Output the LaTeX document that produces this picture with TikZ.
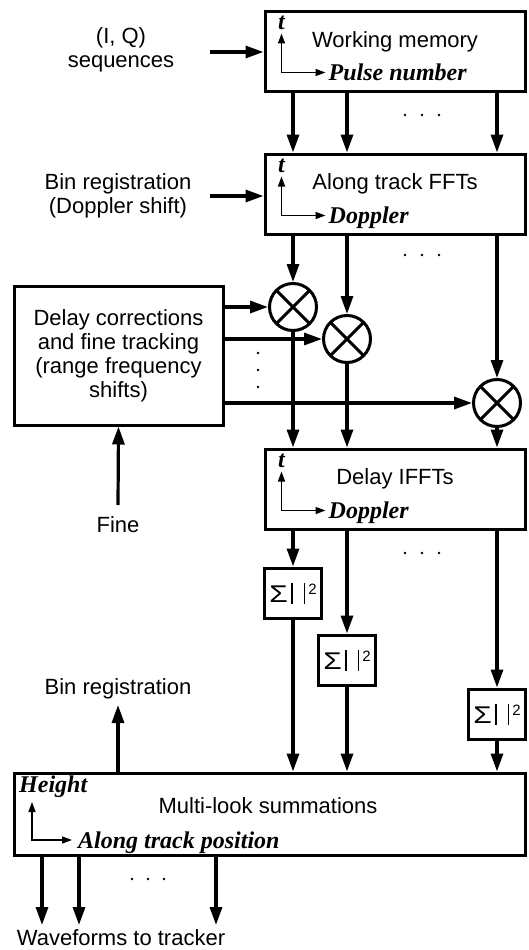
\documentclass[tikz,border=0pt]{standalone}
\usepackage{fontspec}
\setsansfont{Liberation Sans}
\newfontfamily\itlfont{Liberation Serif}
\usetikzlibrary{arrows.meta,calc}
\tikzset{
  blk/.style={draw, line width=3pt, inner sep=0pt},
  arr/.style={line width=3.2pt, -{Triangle[length=18pt,width=12pt]}},
  ax/.style={line width=1.5pt, {Triangle[length=10pt,width=7pt]}-{Triangle[length=10pt,width=7pt]}},
  lbl/.style={font=\sffamily\fontsize{22}{24}\selectfont, align=center, inner sep=0pt},
  itl/.style={font=\itlfont\bfseries\itshape\fontsize{24}{26}\selectfont, inner sep=0pt},
  mult/.style={draw, circle, line width=3pt, minimum size=47pt, inner sep=0pt,
    path picture={\draw[line width=3pt] (path picture bounding box.north west) -- (path picture bounding box.south east)
      (path picture bounding box.north east) -- (path picture bounding box.south west);}},
  sq/.style={blk, minimum width=57pt, minimum height=50pt, font=\sffamily\fontsize{23}{23}\selectfont},
  dotc/.style={fill, circle, minimum size=2.8pt, inner sep=0pt}
}
\newcommand\boxaxes[3]{%
  \coordinate (#1-o) at ($(#1.north west)+(18,#3)$);
  \draw[ax] ($(#1-o)+(0,-39)$) |- ($(#1-o)+(44,0)$);
  \node[itl, anchor=base west] (#1-x) at ($(#1-o)+(47,8)$) {#2};
  \node[itl] (#1-t) at ($(#1-o)+(0,-50)$) {t};
}
\newcommand\sqlabel{\scalebox{1.3}[1.05]{Σ}\hspace{3pt}\rule[-1pt]{1.8pt}{21pt}\hspace{11pt}\rule[-1pt]{1.8pt}{21pt}\hspace{3pt}\raisebox{8pt}{\fontsize{15}{15}\selectfont 2}}
\begin{document}
\begin{tikzpicture}[x=1pt,y=-1pt]
\useasboundingbox (0,0) rectangle (529,950);

% main boxes
\node[blk, minimum width=260pt, minimum height=79pt] (wm) at (395,51.5) {};
\node[lbl] (wm-l) at (395,41.5) {Working memory};
\boxaxes{wm}{Pulse number}{62}

\node[blk, minimum width=260pt, minimum height=80pt] (fft) at (395,194) {};
\node[lbl] (fft-l) at (395,183.5) {Along track FFTs};
\boxaxes{fft}{Doppler}{63}

\node[blk, minimum width=260pt, minimum height=80pt] (ifft) at (395,489) {};
\node[lbl] (ifft-l) at (395,479) {Delay IFFTs};
\boxaxes{ifft}{Doppler}{63}

\node[blk, lbl, minimum width=209pt, minimum height=139pt] (delay) at (118.5,355.5)
  {Delay corrections\\and fine tracking\\(range frequency\\shifts)};

\node[blk, minimum width=511pt, minimum height=82pt] (ml) at (269.5,814) {};
\node[lbl] (ml-l) at (268,806) {Multi-look summations};
\coordinate (ml-o) at (32,840);
\draw[ax] ($(ml-o)+(0,-38)$) |- ($(ml-o)+(40,0)$);
\node[itl, anchor=base west] (ml-x) at ($(ml-o)+(46,8)$) {Along track position};
\node[itl, anchor=west] (ml-t) at (19,787) {Height};

% multipliers
\node[mult] (m1) at (293,307) {};
\node[mult] (m2) at (347,339) {};
\node[mult] (m3) at (497,403) {};

% sum boxes
\node[sq] (s1) at (293,593) {\sqlabel};
\node[sq] (s2) at (347,660) {\sqlabel};
\node[sq] (s3) at (497,714) {\sqlabel};

% input labels
\node[lbl] (iq) at (121,50) {(I, Q)\\sequences};
\coordinate (iqa) at (210,52);
\draw[arr] (iqa) -- (wm.west |- iqa);

\node[lbl] (br) at (118,196) {Bin registration\\(Doppler shift)};
\coordinate (bra) at (210,196);
\draw[arr] (bra) -- (fft.west |- bra);

\node[lbl] (fine) at (118,525) {Fine};
\coordinate (finea) at (118,505);
\draw[arr] (finea) -- (delay.south);

\node[lbl] (br2) at (118,689) {Bin registration};
\coordinate (br2a) at (118,705);
\draw[arr] (ml.north -| br2a) -- (br2a);

\node[lbl] (wf) at (121,938) {Waveforms to tracker};
\coordinate (o1) at (42,925);
\coordinate (o2) at (79,925);
\coordinate (o3) at (216,925);
\foreach \o in {o1,o2,o3} \draw[arr] (ml.south -| \o) -- (\o);

% WM -> FFT
\foreach \m in {m1,m2,m3} \draw[arr] (wm.south -| \m) -- (fft.north -| \m);
% FFT -> multipliers
\foreach \m in {m1,m2,m3} \draw[arr] (fft.south -| \m) -- (\m.north);
% delay -> multipliers
\foreach \m in {m1,m2,m3} \draw[arr] (delay.east |- \m) -- (\m.west);
% multipliers -> IFFT
\foreach \m in {m1,m2,m3} \draw[arr] (\m.south) -- (ifft.north -| \m);
% IFFT -> sum boxes
\foreach \s in {s1,s2,s3} \draw[arr] (ifft.south -| \s) -- (\s.north);
% sum boxes -> ML
\foreach \s in {s1,s2,s3} \draw[arr] (\s.south) -- (ml.north -| \s);

% ellipsis dots
\foreach \y in {115,255,553} \foreach \x in {405,422,439} \node[dotc] at (\x,\y) {};
\foreach \y in {353,370,387} \node[dotc] at (258,\y) {};
\foreach \x in {132,148,164} \node[dotc] at (\x,879) {};
\end{tikzpicture}
\end{document}
